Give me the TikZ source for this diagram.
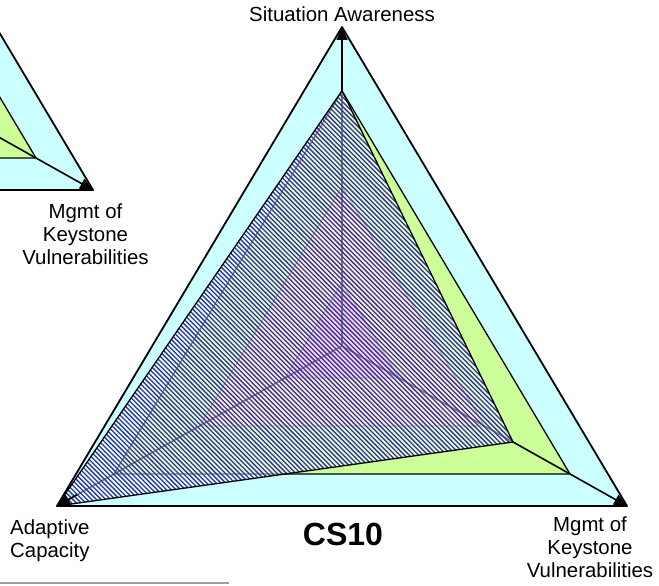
\documentclass[tikz,border=0pt]{standalone}
\usepackage{fontspec}
\setmainfont{Liberation Sans}
\usetikzlibrary{calc,arrows.meta}

\definecolor{skyfill}{HTML}{CCFFFF}
\definecolor{limefill}{HTML}{CCFF99}
\definecolor{tanfill}{HTML}{FFE0B0}
\definecolor{rosefill}{HTML}{FFA8D8}
\definecolor{hatchblue}{HTML}{333399}
\definecolor{rulegray}{HTML}{A0A0A0}

\tikzset{
  rim/.style={draw=black, line width=1.8pt, line join=round},
  series/.style={draw=black, line width=1.3pt, line join=round},
  innerseries/.style={draw=black!70, line width=0.8pt, line join=round},
  axisline/.style={draw=black, line width=1.6pt, -{Triangle[length=13pt,width=11pt]}},
  stripe/.style={draw=hatchblue, line width=1.3pt},
  axislabel/.style={font=\fontsize{20.4}{23}\selectfont, inner sep=0pt, align=center},
  titlelabel/.style={font=\fontsize{32}{36}\selectfont\bfseries, inner sep=0pt},
}

% One three-axis radar chart: centre C, axis ends T, L, R (scale 0..5)
\newcommand\drawradar{%
  \coordinate (C) at (342,346);
  \coordinate (T) at (342,27);
  \coordinate (L) at (57,506);
  \coordinate (R) at (627,506);
  % series 5-5-5
  \filldraw[rim, fill=skyfill] (T) -- (L) -- (R) -- cycle;
  % series 4-4-4
  \filldraw[series, fill=limefill] ($(C)!0.8!(T)$) -- ($(C)!0.8!(L)$) -- ($(C)!0.8!(R)$) -- cycle;
  % series 3-3-3
  \filldraw[innerseries, fill=tanfill] ($(C)!0.5!(T)$) -- ($(C)!0.5!(L)$) -- ($(C)!0.5!(R)$) -- cycle;
  % series 1-1-1
  \filldraw[innerseries, fill=rosefill] ($(C)!0.2!(T)$) -- ($(C)!0.2!(L)$) -- ($(C)!0.2!(R)$) -- cycle;
  % axes
  \draw[axisline] (C) -- (T);
  \draw[axisline] (C) -- (L);
  \draw[axisline] (C) -- (R);
  % hatched series 4-5-3
  \begin{scope}
    \clip ($(C)!0.8!(T)$) -- (L) -- ($(C)!0.6!(R)$) -- cycle;
    \fill[white, opacity=0.5] (0,0) rectangle (659,586);
    \foreach \k in {-90,...,106}
      \draw[stripe] ({\k*4.7},60) -- ++(460,460);
  \end{scope}
  \draw[series] ($(C)!0.8!(T)$) -- (L) -- ($(C)!0.6!(R)$) -- cycle;
  \draw[axisline] ($(C)!0.93!(L)$) -- (L);
}

\begin{document}
\begin{tikzpicture}[x=1pt, y=-1pt]
  \useasboundingbox (0,0) rectangle (659,586);
  \clip (0,0) rectangle (659,586);

  % partly visible neighbouring chart
  \begin{scope}[shift={(-534,-316)}]
    \drawradar
  \end{scope}
  \node[axislabel, anchor=base] (mkleft) at (85.5,264) {Mgmt of\\Keystone\\Vulnerabilities};

  % main chart
  \drawradar
  \node[axislabel, anchor=base] (sa) at (342,22) {Situation Awareness};
  \node[axislabel, anchor=base] (mk) at (590,577) {Mgmt of\\Keystone\\Vulnerabilities};
  \node[axislabel, align=left, anchor=base west] (ac) at (10,557) {Adaptive\\Capacity};
  \node[titlelabel, anchor=base] (cs) at (343,545) {CS10};

  % rule under the left label
  \coordinate (g1) at (0,583);
  \coordinate (g2) at (229,583);
  \draw[rulegray, line width=1.5pt] (g1) -- (g2);
\end{tikzpicture}
\end{document}
